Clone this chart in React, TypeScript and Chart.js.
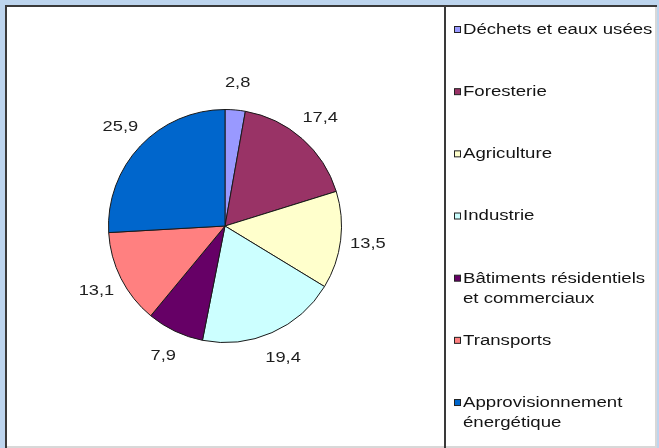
import React, { useEffect, useRef } from "react";
import { Chart, registerables } from "chart.js";

Chart.register(...registerables);

const categories: (string | string[])[] = [
  "Déchets et eaux usées",
  "Foresterie",
  "Agriculture",
  "Industrie",
  ["Bâtiments résidentiels", "et commerciaux"],
  "Transports",
  ["Approvisionnement", "énergétique"],
];
const shares: number[] = [2.8, 17.4, 13.5, 19.4, 7.9, 13.1, 25.9];
const sliceColors: string[] = [
  "#9999FF",
  "#993366",
  "#FFFFCC",
  "#CCFFFF",
  "#660066",
  "#FF8080",
  "#0066CC",
];

const W = 659;
const H = 448;
const FONT = '"Liberation Sans", Arial, sans-serif';

const framePlugin = {
  id: "frame",
  beforeDraw(chart: any) {
    const ctx = chart.ctx as CanvasRenderingContext2D;
    ctx.save();
    ctx.fillStyle = "#BDD5EE";
    ctx.fillRect(0, 0, W, H);
    ctx.fillStyle = "#FFFFFF";
    ctx.fillRect(6, 6, 650, 442);
    // light right/bottom edges
    ctx.fillStyle = "#D8D8D8";
    ctx.fillRect(655, 6, 2, 442);
    ctx.fillRect(6, 446, 651, 2);
    // dark top/left border
    ctx.fillStyle = "#3A3A3A";
    ctx.fillRect(5, 5, 652, 2);
    ctx.fillRect(5, 5, 2, 443);
    // divider between plot and legend
    ctx.fillRect(444, 6, 2, 442);
    ctx.restore();
  },
};

const labelPlugin = {
  id: "sliceLabels",
  afterDatasetsDraw(chart: any) {
    const ctx = chart.ctx as CanvasRenderingContext2D;
    const meta = chart.getDatasetMeta(0);
    const values = chart.data.datasets[0].data as number[];
    ctx.save();
    ctx.fillStyle = "#1E1E1E";
    ctx.font = `15px ${FONT}`;
    ctx.textAlign = "center";
    ctx.textBaseline = "middle";
    meta.data.forEach((arc: any, i: number) => {
      const p = arc.getProps(["x", "y", "startAngle", "endAngle", "outerRadius"], true);
      const mid = (p.startAngle + p.endAngle) / 2;
      const r = p.outerRadius + 27.5;
      const px = p.x + Math.cos(mid) * r;
      const py = p.y + Math.sin(mid) * r;
      const txt = values[i].toFixed(1).replace(".", ",");
      ctx.save();
      ctx.translate(px, py);
      ctx.scale(1.22, 1);
      ctx.fillText(txt, 0, 0);
      ctx.restore();
    });
    ctx.restore();
  },
};

const legendPlugin = {
  id: "sideLegend",
  afterDraw(chart: any) {
    const ctx = chart.ctx as CanvasRenderingContext2D;
    const labels = chart.data.labels as (string | string[])[];
    const colors = chart.data.datasets[0].backgroundColor as string[];
    const top = 30;
    const step = 62.17;
    ctx.save();
    ctx.font = `14px ${FONT}`;
    ctx.textAlign = "left";
    ctx.textBaseline = "middle";
    labels.forEach((lab, i) => {
      const y = top + i * step;
      ctx.fillStyle = colors[i];
      ctx.fillRect(454.5, y - 3.5, 6, 6);
      ctx.strokeStyle = "#222";
      ctx.lineWidth = 1;
      ctx.strokeRect(454.5, y - 3.5, 6, 6);
      const lines = Array.isArray(lab) ? lab : [lab];
      ctx.fillStyle = "#141414";
      lines.forEach((ln, j) => {
        ctx.save();
        ctx.translate(463, y + j * 20);
        ctx.scale(1.33, 1);
        ctx.fillText(ln, 0, 0);
        ctx.restore();
      });
    });
    ctx.restore();
  },
};

export default function App() {
  const ref = useRef<HTMLCanvasElement | null>(null);

  useEffect(() => {
    document.body.style.margin = "0";
    const canvas = ref.current;
    if (!canvas) return;
    const chart = new Chart(canvas, {
      type: "pie",
      data: {
        labels: categories as any,
        datasets: [
          {
            data: shares,
            backgroundColor: sliceColors,
            borderColor: "#1A1A1A",
            borderWidth: 1,
          },
        ],
      },
      options: {
        responsive: false,
        animation: false,
        devicePixelRatio: 1,
        layout: { padding: { left: 108, right: 317, top: 109, bottom: 105 } },
        plugins: {
          legend: { display: false },
          tooltip: { enabled: false },
          title: { display: false },
        },
      },
      plugins: [framePlugin, labelPlugin, legendPlugin],
    });
    return () => chart.destroy();
  }, []);

  return (
    <canvas
      ref={ref}
      width={W}
      height={H}
      style={{ display: "block", width: W, height: H }}
    />
  );
}
